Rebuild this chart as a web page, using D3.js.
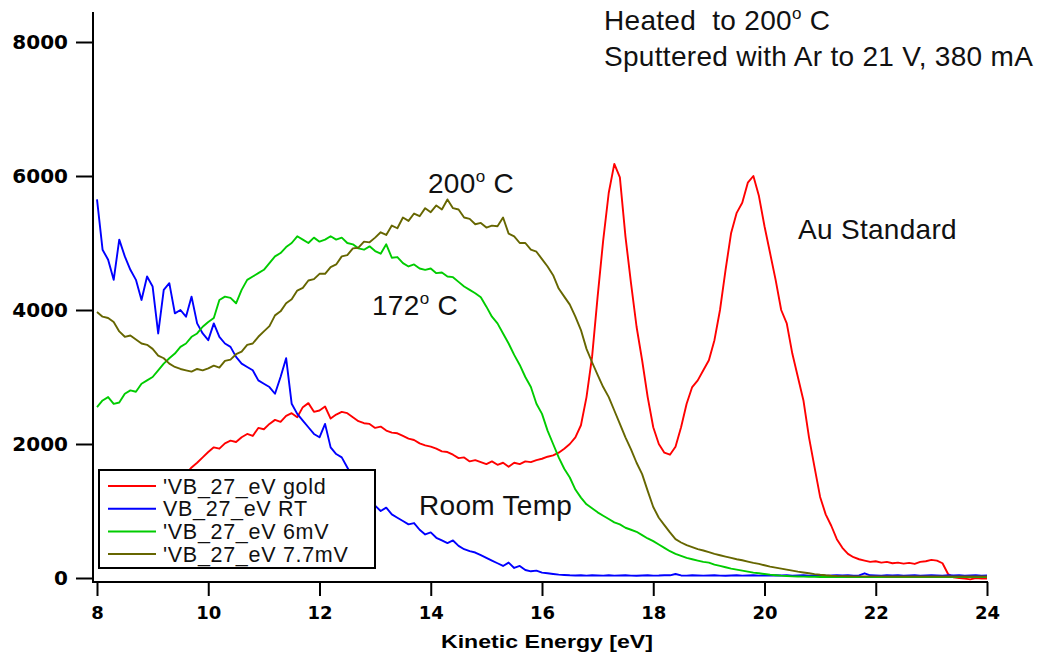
<!DOCTYPE html>
<html><head><meta charset="utf-8">
<script src="https://cdn.jsdelivr.net/npm/d3@7/dist/d3.min.js"></script>
<style>body{margin:0;background:#fff;} svg{display:block;}</style>
</head><body><svg id="c" width="1044" height="656"></svg>
<script>
const energy = [
8.0,8.1,8.2,8.3,8.4,8.5,8.6,8.7,8.8,8.9,
9.0,9.1,9.2,9.3,9.4,9.5,9.6,9.7,9.8,9.9,
10.0,10.1,10.2,10.3,10.4,10.5,10.6,10.7,10.8,10.9,
11.0,11.1,11.2,11.3,11.4,11.5,11.6,11.7,11.8,11.9,
12.0,12.1,12.2,12.3,12.4,12.5,12.6,12.7,12.8,12.9,
13.0,13.1,13.2,13.3,13.4,13.5,13.6,13.7,13.8,13.9,
14.0,14.1,14.2,14.3,14.4,14.5,14.6,14.7,14.8,14.9,
15.0,15.1,15.2,15.3,15.4,15.5,15.6,15.7,15.8,15.9,
16.0,16.1,16.2,16.3,16.4,16.5,16.6,16.7,16.8,16.9,
17.0,17.1,17.2,17.3,17.4,17.5,17.6,17.7,17.8,17.9,
18.0,18.1,18.2,18.3,18.4,18.5,18.6,18.7,18.8,18.9,
19.0,19.1,19.2,19.3,19.4,19.5,19.6,19.7,19.8,19.9,
20.0,20.1,20.2,20.3,20.4,20.5,20.6,20.7,20.8,20.9,
21.0,21.1,21.2,21.3,21.4,21.5,21.6,21.7,21.8,21.9,
22.0,22.1,22.2,22.3,22.4,22.5,22.6,22.7,22.8,22.9,
23.0,23.1,23.2,23.3,23.4,23.5,23.6,23.7,23.8,23.9,
24.0];

const gold = [
null,null,null,null,null,null,null,null,null,null,
null,null,null,null,null,1450,1550,1650,1720,1800,
1880,1950,1930,2010,2050,2030,2100,2150,2120,2240,
2220,2300,2360,2330,2420,2460,2400,2550,2610,2480,
2500,2560,2380,2440,2480,2460,2400,2340,2310,2300,
2240,2260,2200,2170,2160,2120,2080,2060,2010,1980,
1960,1930,1890,1880,1840,1790,1800,1740,1760,1730,
1700,1740,1690,1720,1660,1720,1700,1740,1730,1760,
1780,1810,1830,1870,1930,2000,2100,2280,2700,3300,
4200,5040,5750,6180,5980,5100,4400,3750,3250,2700,
2250,2000,1870,1840,1960,2250,2600,2850,2950,3100,
3250,3550,4000,4600,5150,5450,5600,5900,6000,5700,
5250,4850,4450,4000,3800,3350,3000,2650,2100,1650,
1210,950,780,580,450,360,310,280,260,240,
250,230,240,220,230,215,225,210,240,250,
270,260,220,60,10,0,-10,-20,0,-10,
-10];

const rt = [
5650,4900,4750,4450,5050,4800,4600,4450,4150,4500,
4350,3650,4300,4400,3950,4000,3900,4200,3800,3650,
3550,3800,3600,3500,3450,3300,3200,3150,3100,2950,
2900,2850,2750,3000,3280,2600,2450,2350,2250,2150,
2100,2300,1950,1850,1800,1650,1500,1400,1300,1200,
1080,1000,1050,950,900,850,800,820,720,650,
680,600,560,520,560,480,430,400,380,340,
300,260,220,180,230,150,180,120,100,110,
80,70,60,50,45,40,38,42,35,40,
38,36,40,35,38,42,36,34,38,40,
36,38,42,40,60,38,36,40,38,35,
38,40,36,34,38,42,36,38,40,36,
38,36,40,38,42,36,38,40,36,38,
40,36,38,42,38,40,36,38,70,40,
38,36,40,38,42,36,38,40,36,38,
40,38,36,42,38,40,36,38,40,36,
38];

const mv6 = [
2550,2650,2700,2600,2620,2750,2800,2780,2900,2950,
3000,3100,3200,3280,3350,3450,3500,3600,3650,3750,
3820,3880,4150,4200,4180,4100,4300,4450,4500,4550,
4600,4700,4800,4850,4940,5000,5100,5050,5000,5080,
5020,5050,5100,5050,5080,5000,4980,4920,4900,4950,
4880,4840,4980,4780,4790,4700,4650,4680,4620,4600,
4620,4550,4560,4500,4490,4420,4350,4300,4250,4190,
4050,3900,3800,3650,3500,3330,3180,3000,2850,2600,
2450,2200,2000,1800,1630,1500,1320,1200,1100,1040,
980,930,880,830,800,750,720,690,640,590,
550,500,450,400,360,330,300,280,260,240,
230,200,180,160,140,125,110,95,80,70,
60,50,42,35,30,25,22,20,18,18,
16,16,15,15,15,14,14,14,14,14,
14,14,14,14,14,14,14,14,14,14,
14,14,14,14,14,14,14,14,14,14,
14];

const mv77 = [
3970,3900,3880,3820,3680,3600,3620,3560,3500,3480,
3420,3320,3280,3200,3150,3120,3100,3080,3120,3100,
3130,3170,3140,3240,3260,3340,3380,3480,3500,3600,
3680,3760,3920,3980,4100,4160,4290,4330,4440,4460,
4540,4540,4640,4680,4800,4820,4920,4930,5020,5010,
5080,5160,5120,5260,5220,5380,5330,5440,5400,5520,
5460,5560,5500,5650,5520,5500,5380,5360,5280,5300,
5230,5260,5250,5380,5140,5100,5000,5000,4900,4870,
4760,4650,4520,4320,4200,4080,3900,3700,3420,3220,
3030,2850,2700,2500,2300,2100,1920,1720,1550,1300,
1060,900,790,680,580,530,490,460,430,410,
385,360,340,320,300,280,265,245,225,210,
190,170,155,140,125,110,95,82,70,58,
48,40,34,30,28,26,25,25,24,24,
24,24,23,23,23,22,22,22,22,22,
22,22,22,22,22,22,22,22,22,22,
22];

const seriesNames = ["'VB_27_eV gold", "VB_27_eV RT", "'VB_27_eV 6mV", "'VB_27_eV 7.7mV"];
const seriesColors = ["#ff0000", "#0000ff", "#00cc00", "#666600"];
const seriesValues = [gold, rt, mv6, mv77];
const xTicks = [8, 10, 12, 14, 16, 18, 20, 22, 24];
const yTicks = [0, 2000, 4000, 6000, 8000];
const xTitle = "Kinetic Energy [eV]";

const svg = d3.select("#c");
svg.append("rect").attr("width", 1044).attr("height", 656).attr("fill", "#fff");

const x = d3.scaleLinear().domain([8, 24]).range([97, 987]);
const y = d3.scaleLinear().domain([0, 8000]).range([578, 42]);

// traces
const line = d3.line()
  .defined(d => d[1] !== null)
  .x(d => x(d[0])).y(d => y(d[1]));
seriesValues.forEach((vals, i) => {
  svg.append("path")
    .datum(energy.map((e, k) => [e, vals[k]]))
    .attr("d", line)
    .attr("fill", "none")
    .attr("stroke", seriesColors[i])
    .attr("stroke-width", 1.9)
    .attr("stroke-linejoin", "round");
});

// axes
const yAxis = svg.append("g").attr("transform", "translate(93,0)")
  .call(d3.axisLeft(y).tickValues(yTicks).tickSize(17).tickPadding(8).tickFormat(d3.format("d")));
yAxis.select(".domain").remove();
yAxis.selectAll("line").attr("stroke", "#000").attr("stroke-width", 2);
yAxis.selectAll("text").attr("font-family", "DejaVu Sans").attr("font-weight", "bold")
  .attr("font-size", 20).attr("fill", "#000");

const xAxis = svg.append("g").attr("transform", "translate(0,582)")
  .call(d3.axisBottom(x).tickValues(xTicks).tickSize(14).tickPadding(10).tickFormat(d3.format("d")));
xAxis.select(".domain").remove();
xAxis.selectAll("line").attr("stroke", "#000").attr("stroke-width", 2);
xAxis.selectAll("text").attr("font-family", "DejaVu Sans").attr("font-weight", "bold")
  .attr("font-size", 18).attr("fill", "#000");

svg.append("line").attr("x1", 93).attr("x2", 93).attr("y1", 12).attr("y2", 583)
  .attr("stroke", "#000").attr("stroke-width", 2);
svg.append("line").attr("x1", 92).attr("x2", 988).attr("y1", 582).attr("y2", 582)
  .attr("stroke", "#000").attr("stroke-width", 2);

svg.append("text").attr("x", 547).attr("y", 648).attr("text-anchor", "middle")
  .attr("font-family", "Liberation Sans Narrow, Liberation Sans, Arial").attr("font-weight", "bold")
  .attr("font-size", 19).attr("textLength", 212).attr("lengthAdjust", "spacingAndGlyphs")
  .attr("fill", "#000").text(xTitle);

// annotations
const annFont = "Liberation Sans, Arial, sans-serif";
function ann(px, py, parts) {
  const t = svg.append("text").attr("x", px).attr("y", py)
    .attr("font-family", annFont).attr("font-size", 28).attr("letter-spacing", 0.3)
    .attr("fill", "#111").style("white-space", "pre");
  parts.forEach(p => {
    if (p.sup) t.append("tspan").attr("font-size", 17).attr("dy", -11).text(p.s);
    else t.append("tspan").attr("dy", p.down ? 11 : 0).text(p.s);
  });
}
ann(604, 30, [{s: "Heated  to 200"}, {s: "o", sup: true}, {s: " C", down: true}]);
ann(604, 66, [{s: "Sputtered with Ar to 21 V, 380 mA"}]);
ann(428, 193, [{s: "200"}, {s: "o", sup: true}, {s: " C", down: true}]);
ann(372, 315, [{s: "172"}, {s: "o", sup: true}, {s: " C", down: true}]);
ann(419, 515, [{s: "Room Temp"}]);
ann(798, 239, [{s: "Au Standard"}]);

// legend
const lg = svg.append("g");
lg.append("rect").attr("x", 99).attr("y", 470).attr("width", 276).attr("height", 98)
  .attr("fill", "#fff").attr("stroke", "#000").attr("stroke-width", 2);
seriesNames.forEach((n, i) => {
  const yy = 486 + i * 22.7;
  lg.append("line").attr("x1", 108).attr("x2", 156).attr("y1", yy).attr("y2", yy)
    .attr("stroke", seriesColors[i]).attr("stroke-width", 2);
  lg.append("text").attr("x", 163).attr("y", yy + 7.5)
    .attr("font-family", annFont).attr("font-size", 21.5).attr("letter-spacing", 0.7)
    .attr("fill", "#111").text(n);
});
</script></body></html>
